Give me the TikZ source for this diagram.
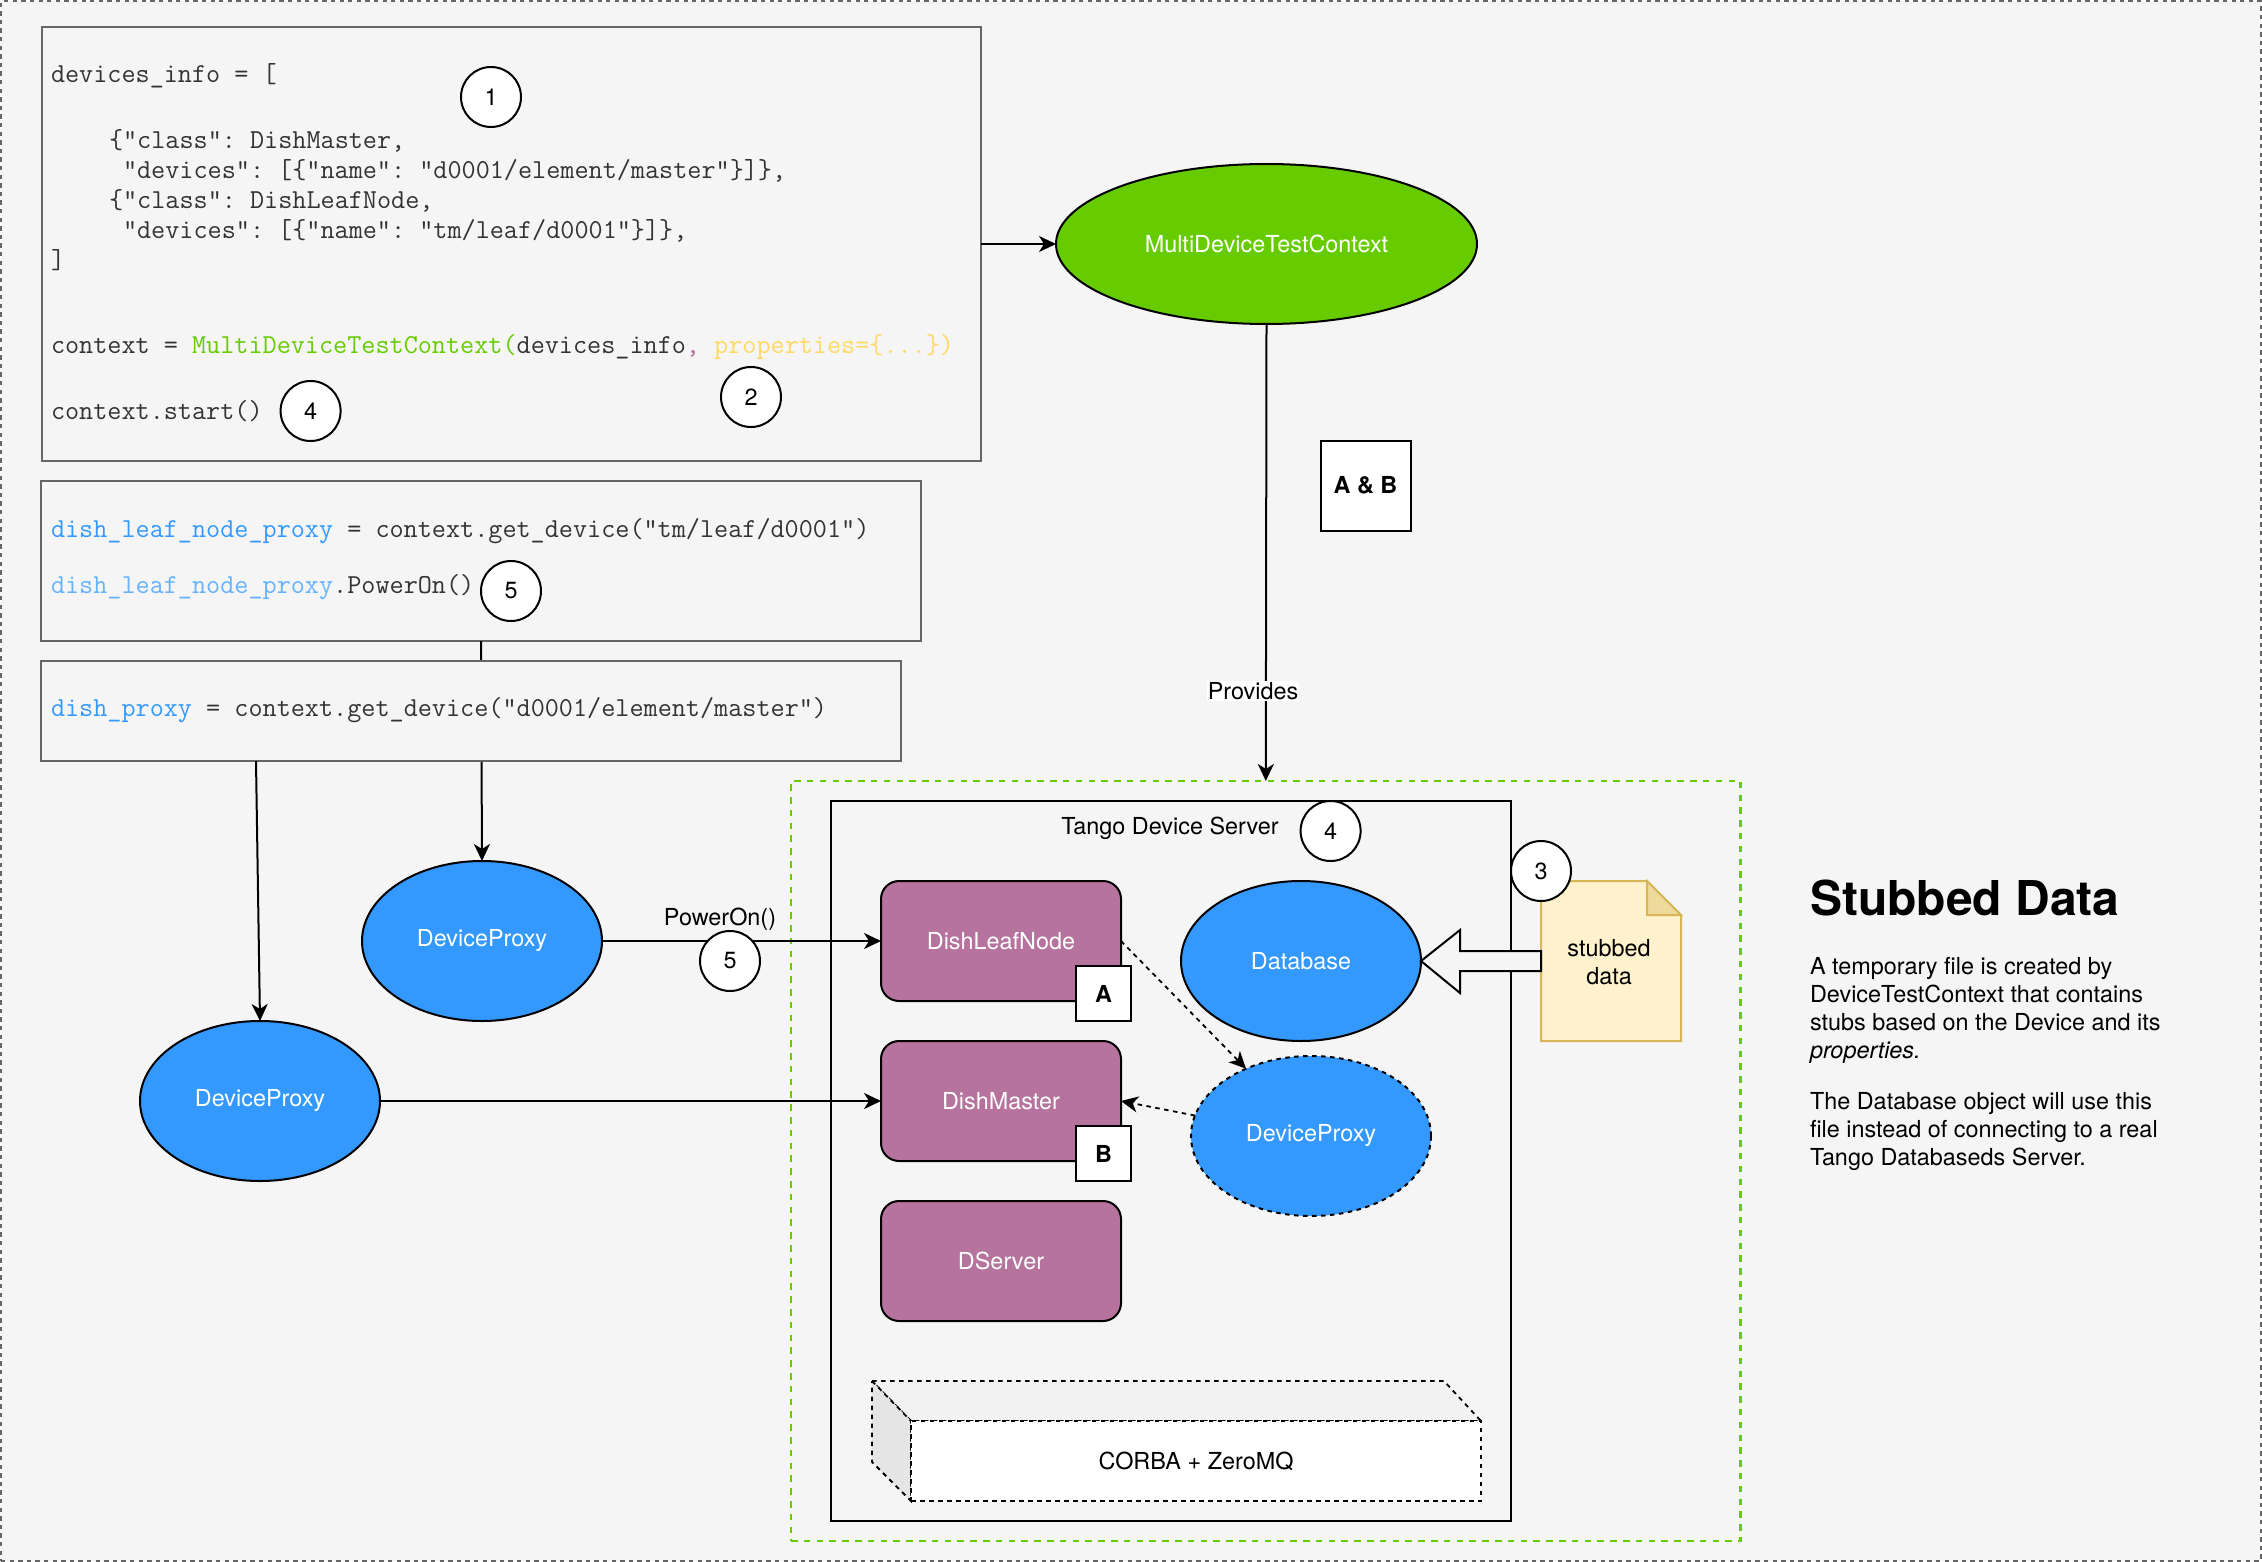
\documentclass[tikz,border=0pt]{standalone}
\usepackage{fontspec}
\setmainfont{TeX Gyre Heros}
\usetikzlibrary{arrows.meta,shapes.geometric}
\definecolor{fondo}{HTML}{F5F5F5}
\definecolor{marco}{HTML}{666666}
\definecolor{verde}{HTML}{66CC00}
\definecolor{azul}{HTML}{3399FF}
\definecolor{azulclaro}{HTML}{66B2FF}
\definecolor{malva}{HTML}{B5739D}
\definecolor{amarillo}{HTML}{FFD966}
\definecolor{gris}{HTML}{333333}
\definecolor{notafondo}{HTML}{FFF2CC}
\definecolor{notaborde}{HTML}{D6B656}
\tikzset{
  every node/.style={outer sep=0pt,inner sep=0pt,font=\fontsize{23.4}{28}\selectfont},
  >={Stealth[length=17pt,width=16pt,inset=5pt]},
  flecha/.style={line width=2pt,->},
  punteada/.style={line width=1.8pt,->,dash pattern=on 4.5pt off 4.5pt},
  caja/.style={rectangle,draw=marco,fill=fondo,line width=2pt},
  codigo/.style={anchor=base west,text=gris,font=\ttfamily\fontsize{27.4}{30}\selectfont},
  numero/.style={circle,draw=black,fill=white,line width=2pt,minimum size=60pt},
  disco/.style={ellipse,draw=black,fill=azul,text=white,line width=2pt,minimum width=240pt,minimum height=160pt},
  modulo/.style={rectangle,rounded corners=18pt,draw=black,fill=malva,text=white,line width=2pt,minimum width=240pt,minimum height=120pt},
  etiqueta/.style={rectangle,draw=black,fill=white,line width=2pt,font=\bfseries\fontsize{23.4}{28}\selectfont,minimum size=55pt},
}
\frenchspacing
\begin{document}
\begin{tikzpicture}[x=1pt,y=-1pt]
\useasboundingbox (0,0) rectangle (2262,1562);
\node[rectangle,draw=marco,fill=fondo,line width=2pt,dash pattern=on 4.3pt off 4.3pt,
  minimum width=2260pt,minimum height=1559pt] (fondo) at (1131,781) {};
%
% cajas de codigo
\node[caja,minimum width=939.5pt,minimum height=434pt] (codeA) at (511.25,244) {};
\node[caja,minimum width=880.5pt,minimum height=160pt] (codeB) at (481,561) {};
\node[disco,fill=verde,minimum width=421pt] (mdtc) at (1266.5,244) {MultiDeviceTestContext};
\node[disco] (proxyA) at (482,941) {DeviceProxy};
\node[disco] (proxyB) at (260,1101) {DeviceProxy};
\draw[flecha] (codeB.south) -- (proxyA.north);
\node[caja,minimum width=860.5pt,minimum height=100pt] (codeC) at (471,711) {};
\coordinate (salidaC) at (256,761);
\draw[flecha] (salidaC) -- (proxyB.north);
\draw[flecha] (codeA) -- (mdtc);
%
\node[codigo] (l1) at (51,83) {devices\_info = [};
\node[codigo] (l2) at (109,149) {\{"class": DishMaster,};
\node[codigo] (l3) at (123,179) {"devices": [\{"name": "d0001/element/master"\}]\},};
\node[codigo] (l4) at (109,209) {\{"class": DishLeafNode,};
\node[codigo] (l5) at (123,239) {"devices": [\{"name": "tm/leaf/d0001"\}]\},};
\node[codigo] (l6) at (51,269) {]};
\node[codigo] (l7) at (51,353) {context = \textcolor{verde}{MultiDeviceTestContext(}devices\_info\textcolor{malva}{,} \textcolor{amarillo}{properties=\{...\})}};
\node[codigo] (l8) at (51,419) {context.start()};
\node[codigo] (l9) at (51,537) {\textcolor{azul}{dish\_leaf\_node\_proxy} = context.get\_device("tm/leaf/d0001")};
\node[codigo] (l10) at (51,593) {\textcolor{azulclaro}{dish\_leaf\_node\_proxy}.PowerOn()};
\node[codigo] (l11) at (51,716) {\textcolor{azul}{dish\_proxy} = context.get\_device("d0001/element/master")};
%
% servidor
\node[rectangle,draw=verde,line width=2.9pt,dash pattern=on 6.5pt off 6.3pt,
  minimum width=949.6pt,minimum height=760pt] (stubs) at (1265.8,1161) {};
\node[rectangle,draw=black,line width=2pt,minimum width=680pt,minimum height=720pt] (server) at (1171,1161) {};
\node (serverlabel) at (1170,828) {Tango Device Server};
\node[modulo] (leaf) at (1001,941) {DishLeafNode};
\node[modulo] (master) at (1001,1101) {DishMaster};
\node[modulo] (dserver) at (1001,1261) {DServer};
\node[etiqueta] (tagA) at (1103.5,993.5) {A};
\node[etiqueta] (tagB) at (1103.5,1153.5) {B};
\node[disco] (db) at (1301,961) {Database};
\node[disco,dash pattern=on 4.5pt off 4.5pt] (proxyC) at (1311,1136) {DeviceProxy};
%
\draw[flecha] (mdtc.south) -- (stubs.north);
\node[fill=white,inner sep=1pt] (provides) at (1253,691) {Provides};
\node[etiqueta,minimum size=90pt] (tagAB) at (1365.5,485.5) {A \& B};
\draw[flecha] (proxyA.east) -- (leaf.west);
\draw[flecha] (proxyB.east) -- (master.west);
\node (poweron) at (720,919) {PowerOn()};
\draw[punteada] (leaf.east) -- (proxyC.134);
\draw[punteada] (proxyC.170) -- (master.east);
%
% nota
\draw[notaborde,fill=notafondo,line width=2pt] (1541,881) -- (1647,881) -- (1681,915) -- (1681,1041) -- (1541,1041) -- cycle;
\draw[notaborde,fill=notaborde!40!notafondo,line width=2pt] (1647,881) -- (1681,915) -- (1647,915) -- cycle;
\node[align=center] (note) at (1609,962) {stubbed\\data};
\draw[line width=2pt,fill=fondo] (db.east) -- ++(39,-31) -- ++(0,21) -- ++(81,0) -- ++(0,20) -- ++(-81,0) -- ++(0,22) -- cycle;
%
% bloque inferior
\draw[line width=1.8pt,dash pattern=on 4.5pt off 4.5pt,fill=black!5] (872,1381) -- (1444,1381) -- (1481,1421) -- (911,1421) -- cycle;
\draw[line width=1.8pt,dash pattern=on 4.5pt off 4.5pt,fill=black!10] (872,1381) -- (911,1421) -- (911,1501) -- (872,1462) -- cycle;
\node[rectangle,draw=black,fill=white,line width=1.8pt,dash pattern=on 4.5pt off 4.5pt,
  minimum width=570pt,minimum height=80pt] (corba) at (1196,1461) {CORBA + ZeroMQ};
%
\foreach \nombre/\px/\py/\cifra in {n1/491/97/1,n2/751/397/2,n4a/310.6/411/4,n5a/511/591/5,n5b/730/961/5,n4b/1330.6/831/4,n3/1541/871/3}
  \node[numero] (\nombre) at (\px,\py) {\cifra};
%
% texto lateral
\node[anchor=base west,font=\bfseries\fontsize{48}{56}\selectfont] (titulo) at (1810,915) {Stubbed Data};
\node[anchor=north west,align=left] (texto) at (1810,957) {A temporary file is created by\\DeviceTestContext that contains\\stubs based on the Device and its\\\textit{properties.}\\[23pt]The Database object will use this\\file instead of connecting to a real\\Tango Databaseds Server.};
\end{tikzpicture}
\end{document}
